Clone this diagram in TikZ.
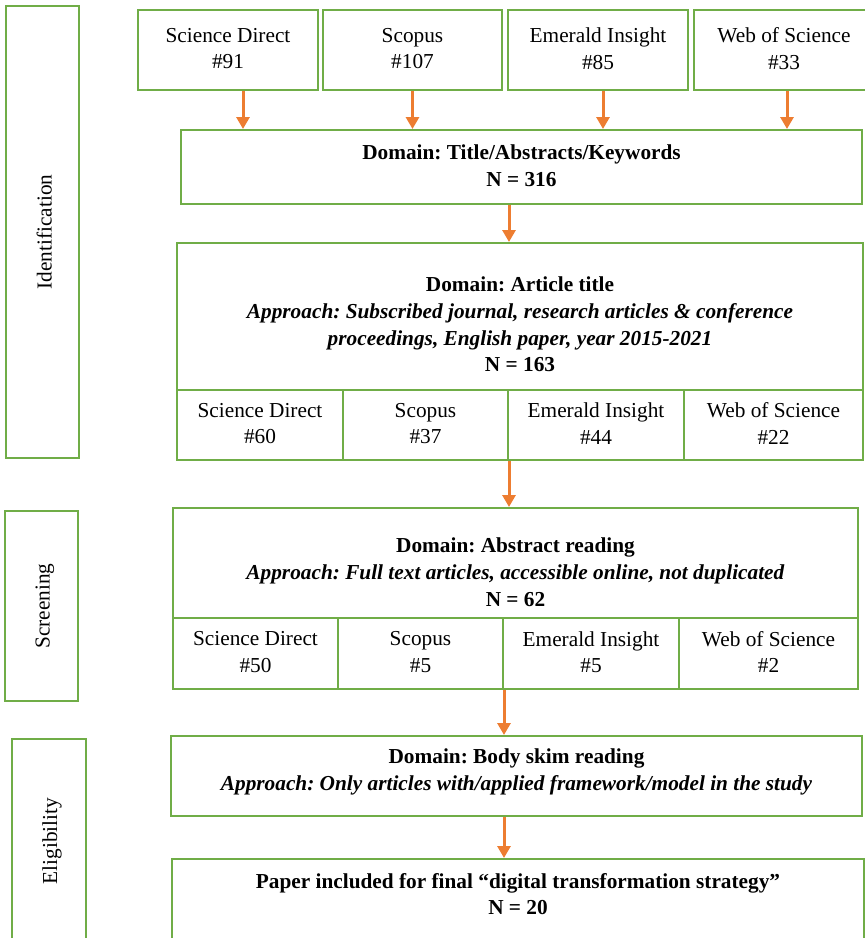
\documentclass[tikz,border=0pt]{standalone}
\usepackage{fontspec}
\setmainfont{Liberation Serif}
\usepackage{tikz}
\usetikzlibrary{arrows.meta}
\definecolor{boxgreen}{HTML}{70AD47}
\definecolor{floworange}{HTML}{ED7D31}
\frenchspacing
\newcommand{\topstrut}{\rule{0pt}{21pt}}
\newcommand{\botstrut}{\rule[-3pt]{0pt}{3pt}}
\tikzset{
  frame/.style={draw=boxgreen, line width=2pt, inner sep=0pt, align=center,
    font=\fontsize{21.3}{26.7}\selectfont,
    execute at begin node=\topstrut, execute at end node=\botstrut},
  txt/.style={inner sep=0pt, align=center, font=\fontsize{21.3}{26.7}\selectfont,
    execute at begin node=\topstrut, execute at end node=\botstrut},
  flow/.style={draw=floworange, line width=3pt, -{Triangle[length=12pt,width=13pt]}}
}

\begin{document}
\begin{tikzpicture}[x=1pt,y=-1pt]
		%%%%% START %%%%%
		\useasboundingbox (0,0) rectangle (865,938);
		\clip (0,0) rectangle (865,938);
		
		% stages
		\node[frame, rotate=90, minimum width=452pt, minimum height=73pt] (stIdent) at (42.5,232) {Identification};
		\node[frame, rotate=90, minimum width=190pt, minimum height=73pt] (stScreen) at (41.5,606) {Screening};
		\node[frame, rotate=90, minimum width=204pt, minimum height=74pt] (stElig) at (49,841) {Eligibility};
		
		% databases
		\node[frame, minimum width=180pt, minimum height=80pt] (srcSD) at (228,50) {Science Direct\\\#91};
		\node[frame, minimum width=179pt, minimum height=80pt] (srcSC) at (412.5,50) {Scopus\\\#107};
		\node[frame, minimum width=180pt, minimum height=80pt] (srcEI) at (598,50) {Emerald Insight\\\#85};
		\node[frame, minimum width=180pt, minimum height=80pt] (srcWS) at (784,50) {Web of Science\\\#33};
		
		\node[frame, minimum width=681pt, minimum height=74pt] (domTitle) at (521.5,167) {\textbf{Domain: Title/Abstracts/Keywords}\\\textbf{N = 316}};
		
		% article title
		\node[frame, minimum width=686pt, minimum height=147pt] (artBox) at (520,316.5) {};
		\node[txt] (artText) at (520,326) {\textbf{Domain: Article title}\\
			\textbf{\textit{Approach: Subscribed journal, research articles \& conference}}\\
			\textbf{\textit{proceedings, English paper, year 2015-2021}}\\
			\textbf{N = 163}};
		\node[frame, minimum width=166pt, minimum height=70pt] (artSD) at (260,425) {Science Direct\\\#60};
		\node[frame, minimum width=165pt, minimum height=70pt] (artSC) at (425.5,425) {Scopus\\\#37};
		\node[frame, minimum width=176pt, minimum height=70pt] (artEI) at (596,425) {Emerald Insight\\\#44};
		\node[frame, minimum width=179pt, minimum height=70pt] (artWS) at (773.5,425) {Web of Science\\\#22};
		
		% abstract reading
		\node[frame, minimum width=685pt, minimum height=110pt] (absBox) at (515.5,563) {};
		\node[txt] (absText) at (515.5,573.5) {\textbf{Domain: Abstract reading}\\
			\textbf{\textit{Approach: Full text articles, accessible online, not duplicated}}\\
			\textbf{N = 62}};
		\node[frame, minimum width=165pt, minimum height=71pt] (absSD) at (255.5,653.5) {Science Direct\\\#50};
		\node[frame, minimum width=165pt, minimum height=71pt] (absSC) at (420.5,653.5) {Scopus\\\#5};
		\node[frame, minimum width=176pt, minimum height=71pt] (absEI) at (591,653.5) {Emerald Insight\\\#5};
		\node[frame, minimum width=179pt, minimum height=71pt] (absWS) at (768.5,653.5) {Web of Science\\\#2};
		
		% body reading
		\node[frame, minimum width=691pt, minimum height=80pt] (bodyBox) at (516.5,776) {};
		\node[txt] (bodyText) at (516.5,772) {\textbf{Domain: Body skim reading}\\
			\textbf{\textit{Approach: Only articles with/applied framework/model in the study}}};
		
		% final
		\node[frame, minimum width=692pt, minimum height=86pt] (finalBox) at (518,902) {};
		\node[txt] (finalText) at (518,895.5) {\textbf{Paper included for final ``digital transformation strategy''}\\
			\textbf{N = 20}};
		
		% arrows
		\draw[flow] ([xshift=15pt]srcSD.south) -- ([xshift=15pt]srcSD.south |- domTitle.north);
		\draw[flow] (srcSC.south) -- (srcSC.south |- domTitle.north);
		\draw[flow] ([xshift=5pt]srcEI.south) -- ([xshift=5pt]srcEI.south |- domTitle.north);
		\draw[flow] ([xshift=3pt]srcWS.south) -- ([xshift=3pt]srcWS.south |- domTitle.north);
		\draw[flow] (domTitle.south -| artSC.east) -- (artBox.north -| artSC.east);
		\draw[flow] (artSC.south east) -- (artSC.south east |- absBox.north);
		\draw[flow] (absSC.south east) -- (absSC.south east |- bodyBox.north);
		\draw[flow] (bodyBox.south -| absSC.east) -- (finalBox.north -| absSC.east);
		
		%%%%% END %%%%%
\end{tikzpicture}
\end{document}
